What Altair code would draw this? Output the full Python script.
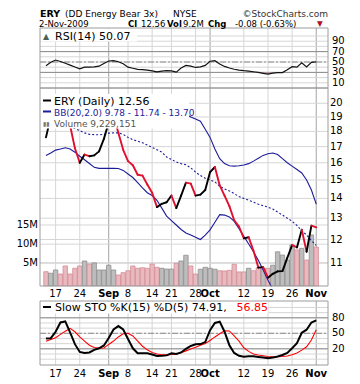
import altair as alt
import pandas as pd

# ---------------- data (trading-day index: 0 = Mon 17-Aug-2009, 54 = Mon 2-Nov-2009)
DAY = list(range(-2, 55))
CLOSE = [17.6, 19.0, 20.3, 19.9, 19.2, 18.4, 16.9, 16.0, 16.5, 16.4,
         16.45, 16.7, 17.5, 18.6, 19.1, 17.9, 16.8, 16.1, 15.85, 15.3,
         15.25, 14.75, 14.3, 13.55, 13.72, 13.8, 14.15, 13.5, 14.15, 14.85,
         14.8, 14.15, 14.2, 14.45, 15.45, 15.75, 14.7, 14.15, 13.6, 12.9,
         12.6, 12.05, 12.1, 11.5, 10.8, 10.82, 10.4, 10.55, 10.65, 10.66,
         11.2, 11.75, 11.65, 12.45, 11.46, 12.64, 12.56]
PREV_CLOSE = 18.2
BB_UP = [20.5, 20.55, 20.6, 20.6, 20.55, 20.5, 20.45, 20.4, 20.2, 20.0,
         19.9, 19.85, 19.85, 19.9, 20.0, 20.05, 20.0, 19.95, 19.9, 19.85,
         19.8, 19.75, 19.7, 19.6, 19.5, 19.4, 19.35, 19.3, 19.25, 19.2,
         19.0, 18.85, 18.7, 18.15, 17.6, 16.85, 16.25, 15.95, 15.82, 15.8,
         15.82, 15.87, 15.95, 16.1, 16.28, 16.45, 16.55, 16.6, 16.5, 16.25,
         16.0, 15.8, 15.6, 15.4, 15.0, 14.45, 13.70]
BB_MID = [18.6, 18.5, 18.45, 18.4, 18.35, 18.3, 18.2, 18.05, 17.9, 17.8,
          17.78, 17.77, 17.8, 17.88, 17.9, 17.9, 17.8, 17.6, 17.45, 17.35,
          17.25, 17.1, 16.95, 16.8, 16.65, 16.35, 16.2, 16.05, 15.95, 15.88,
          15.7, 15.45, 15.25, 15.1, 15.0, 14.9, 14.65, 14.5, 14.4, 14.25,
          14.1, 14.0, 13.9, 13.8, 13.7, 13.62, 13.55, 13.45, 13.3, 13.15,
          13.0, 12.85, 12.65, 12.4, 12.2, 11.95, 11.74]
BB_LOW = [16.45, 16.6, 16.78, 16.85, 16.93, 16.85, 16.65, 16.4, 16.18, 15.96,
          15.73, 15.67, 15.67, 15.67, 15.67, 15.66, 15.55, 15.34, 15.14, 14.85,
          14.56, 14.3, 14.15, 13.9, 13.5, 13.1, 12.88, 12.67, 12.46, 12.3,
          12.2, 12.1, 12.0, 12.2, 12.44, 12.8, 13.17, 13.15, 13.06, 12.84,
          12.5, 12.14, 11.8, 11.46, 11.1, 10.7, 10.3, 9.95, 9.85, 9.8,
          9.8, 9.75, 9.7, 9.65, 9.65, 9.7, 9.78]
VOLUME_M = [2.8, 2.4, 3.25, 2.2, 4.3, 2.2, 3.7, 4.3, 5.6, 4.8,
            5.1, 3.25, 3.25, 4.5, 3.25, 1.95, 2.55, 3.05, 4.3, 3.7,
            3.85, 3.7, 4.8, 3.95, 3.7, 3.5, 3.5, 5.0, 5.6, 7.1,
            4.3, 2.2, 3.45, 3.95, 3.7, 3.45, 3.05, 3.0, 3.15, 4.75,
            2.75, 2.75, 3.7, 3.05, 3.85, 3.7, 3.7, 4.5, 8.0, 7.15,
            5.85, 9.8, 8.5, 8.9, 5.85, 12.4, 9.229151]
RSI = [43, 49.5, 53.8, 51, 47.5, 44, 40.5, 37, 40, 40,
       40.5, 42, 47, 51.9, 52.8, 50.5, 46.5, 40, 38, 36,
       35.5, 34.5, 33, 31, 32.3, 33.4, 33, 30.5, 38.5, 43.5,
       42, 39.5, 40.5, 43.5, 51.5, 52.5, 46, 41.5, 38.5, 36,
       34.5, 33.3, 32.5, 31.3, 30, 28.3, 26.8, 28.5, 29.6, 29.6,
       35, 41, 40, 48.5, 40.5, 49.4, 50.07]
STO_K = [40, 40.5, 53, 71, 73, 52, 29, 14, 12, 13,
         18, 21, 26.5, 41, 57.5, 64, 57.5, 39, 21, 11.3,
         11.3, 11.3, 9, 6.2, 6.5, 7.3, 11.3, 10, 13, 20,
         25.5, 28.7, 29.2, 33, 56, 70, 72.5, 53, 27, 12,
         6.5, 4.7, 5.5, 5.5, 4.2, 3, 1.8, 3, 5, 8,
         12, 21, 31, 51, 57, 71, 74.91]
STO_D = [34.5, 38, 41.5, 48, 54, 59.5, 53, 43, 35, 27,
         22.5, 21, 21.5, 28.5, 35, 43, 49, 50, 45, 35,
         25, 18, 13, 10, 8.5, 8.3, 9, 10, 12.5, 16,
         19.5, 23, 27, 30.5, 36, 43, 49, 55, 54.5, 45,
         35, 22, 15, 10, 8, 6.5, 5.2, 4.8, 4.7, 5.2,
         6.1, 8.5, 12, 17.5, 24, 37, 56.85]

TICK_DAY = [0, 5, 11, 15, 20, 24, 29, 32, 39, 44, 49, 54]
TICK_LABEL = ["17", "24", "Sep", "8", "14", "21", "28", "Oct", "12", "19", "26", "Nov"]
MONTHS = ["Sep", "Oct", "Nov"]
PRICE_TICKS = [11, 12, 13, 14, 15, 16, 17, 18, 19, 20]
VOL_TICKS = [5, 10, 15]
VOL_LABELS = ["5M", "10M", "15M"]
RSI_LABELS = [10, 30, 50, 70, 90]
RSI_GRID = [10, 20, 30, 40, 50, 60, 70, 80, 90, 100]
STO_LABELS = [20, 50, 80]
STO_GRID = [0, 10, 20, 30, 40, 50, 60, 70, 80, 90, 100]

# ---------------- layout (pixels inside the plot group)
W, H = 288, 337
RSI_TOP, RSI_BOT = 0, 60
PX_TOP, PX_BOT = 60, 258
STO_TOP, STO_BOT = 273, 337
FONT = "DejaVu Sans"
NAVY = "#1c1c9a"
GRID = "#d6d6d6"
REF = "#8c8c8c"
BORDER = "#9c9c9c"

XS = alt.Scale(domain=[-2.2, 55.4], nice=False, zero=False)
RSI_S = alt.Scale(domain=[0, 115.4], range=[RSI_BOT, RSI_TOP], nice=False, zero=False)
PX_S = alt.Scale(type="log", domain=[10.08, 21.18], range=[PX_BOT, PX_TOP], nice=False)
VOL_MIN = -0.93
VOL_S = alt.Scale(domain=[VOL_MIN, 50.77], range=[PX_BOT, PX_TOP], nice=False, zero=False)
STO_S = alt.Scale(domain=[-11.3, 112.5], range=[STO_BOT, STO_TOP], nice=False, zero=False)

df = pd.DataFrame({"day": DAY, "close": CLOSE, "bb_up": BB_UP, "bb_mid": BB_MID,
                   "bb_low": BB_LOW, "vol": VOLUME_M, "rsi": RSI, "k": STO_K, "d": STO_D})
df["prev_day"] = df["day"] - 1
df["prev_close"] = [PREV_CLOSE] + CLOSE[:-1]
df["rsi_low"] = df["rsi"].clip(upper=30)
seg = df.iloc[1:].copy()

X = alt.X("day:Q", scale=XS, axis=None)
UP = "datum.close >= datum.prev_close"

layers = []

# vertical grid lines, one set per panel
vrows = []
for d, lab in zip(TICK_DAY, TICK_LABEL):
    for top, bot in [(RSI_TOP, RSI_BOT), (PX_TOP, PX_BOT), (STO_TOP, STO_BOT)]:
        vrows.append({"day": d, "month": lab in MONTHS, "top": top, "bot": bot})
layers.append(alt.Chart(pd.DataFrame(vrows)).mark_rule(strokeWidth=1).encode(
    x=X, y=alt.Y("top:Q", scale=None), y2="bot:Q",
    color=alt.condition("datum.month", alt.value("#a4a4a4"), alt.value(GRID))))


def hlines(vals, scale, color, dash=None, width=1):
    kw = {"color": color, "strokeWidth": width}
    if dash:
        kw["strokeDash"] = dash
    return alt.Chart(pd.DataFrame({"v": vals})).mark_rule(**kw).encode(
        x=alt.value(0), x2=alt.value(W), y=alt.Y("v:Q", scale=scale, axis=None))


layers.append(hlines(RSI_GRID, RSI_S, GRID))
layers.append(hlines(PRICE_TICKS, PX_S, GRID))
layers.append(hlines(VOL_TICKS, VOL_S, GRID))
layers.append(hlines(STO_GRID, STO_S, GRID))
layers.append(hlines([30, 70], RSI_S, REF))
layers.append(hlines([50], RSI_S, REF, dash=[6, 2, 2, 2]))
layers.append(hlines([20, 80], STO_S, REF))
layers.append(hlines([50], STO_S, REF, dash=[6, 2, 2, 2]))

# RSI
layers.append(alt.Chart(df).mark_area(color="#cf9ea3").encode(
    x=X, y=alt.Y("rsi_low:Q", scale=RSI_S, axis=None), y2=alt.datum(30)))
layers.append(alt.Chart(df).mark_line(color="#111111", strokeWidth=1.2).encode(
    x=X, y=alt.Y("rsi:Q", scale=RSI_S, axis=None)))

# volume
layers.append(alt.Chart(df).mark_bar(size=4.4, strokeWidth=0.8, clip=True).encode(
    x=X, y=alt.Y("vol:Q", scale=VOL_S, axis=None), y2=alt.datum(VOL_MIN),
    fill=alt.condition(UP, alt.value("#bdbdbd"), alt.value("#e8b9be")),
    stroke=alt.condition(UP, alt.value("#8e8e8e"), alt.value("#d68c96"))))

# Bollinger bands
for col, dash in [("bb_up", None), ("bb_low", None), ("bb_mid", [2, 2])]:
    kw = {"color": NAVY, "strokeWidth": 1.1}
    if dash:
        kw["strokeDash"] = dash
    layers.append(alt.Chart(df).mark_line(**kw).encode(
        x=X, y=alt.Y(f"{col}:Q", scale=PX_S, axis=None)))

# close line, black up / red down
layers.append(alt.Chart(seg).mark_rule(strokeWidth=1.9, strokeCap="round").encode(
    x=alt.X("prev_day:Q", scale=XS, axis=None), x2="day:Q",
    y=alt.Y("prev_close:Q", scale=PX_S, axis=None), y2="close:Q",
    color=alt.condition(UP, alt.value("#000000"), alt.value("#e0112f"))))

# white gap between price and STO panels
layers.append(alt.Chart(pd.DataFrame({"a": [0]})).mark_rect(color="white").encode(
    x=alt.value(-2), x2=alt.value(W + 2), y=alt.value(PX_BOT + 0.5), y2=alt.value(STO_TOP - 0.5)))

# STO
layers.append(alt.Chart(df).mark_line(color="#ff0000", strokeWidth=1.1).encode(
    x=X, y=alt.Y("d:Q", scale=STO_S, axis=None)))
layers.append(alt.Chart(df).mark_line(color="#000000", strokeWidth=2).encode(
    x=X, y=alt.Y("k:Q", scale=STO_S, axis=None)))

# legend boxes
boxes = pd.DataFrame({"x": [0.5, 0.5, 0.5], "x2": [97, 149, 228],
                      "y": [0.5, 66, 273.5], "y2": [13.5, 100.5, 285.5]})
layers.append(alt.Chart(boxes).mark_rect(color="white").encode(
    x=alt.X("x:Q", scale=None), x2="x2:Q", y=alt.Y("y:Q", scale=None), y2="y2:Q"))

# panel borders
panels = pd.DataFrame({"top": [RSI_TOP, PX_TOP, STO_TOP], "bot": [RSI_BOT, PX_BOT, STO_BOT]})
layers.append(alt.Chart(panels).mark_rect(fillOpacity=0, stroke=BORDER, strokeWidth=1).encode(
    x=alt.value(0), x2=alt.value(W), y=alt.Y("top:Q", scale=None), y2="bot:Q"))

# legend icons
icons = pd.DataFrame({"x": [3, 3, 3], "x2": [11, 11, 11], "y": [72.5, 83.5, 279],
                      "c": ["#000000", NAVY, "#000000"]})
layers.append(alt.Chart(icons).mark_rule(strokeWidth=2).encode(
    x=alt.X("x:Q", scale=None), x2="x2:Q", y=alt.Y("y:Q", scale=None),
    color=alt.Color("c:N", scale=None)))


def texts(rows, size, weight="normal", color="#000000", align="left", baseline="alphabetic"):
    return alt.Chart(pd.DataFrame(rows, columns=["x", "y", "t"])).mark_text(
        align=align, baseline=baseline, fontSize=size, fontWeight=weight, color=color, font=FONT
    ).encode(x=alt.X("x:Q", scale=None), y=alt.Y("y:Q", scale=None), text="t:N")


layers.append(texts([(3, 11, "▲")], 8, color="#4f5f4f"))
layers.append(texts([(3, 98, "▮▮")], 6, color="#777777"))
layers.append(texts([(15, 11.5, "RSI(14) 50.07")], 11))
layers.append(texts([(14, 76.5, "ERY (Daily) 12.56")], 11))
layers.append(texts([(14, 87.5, "BB(20,2.0) 9.78 - 11.74 - 13.70")], 9, color=NAVY))
layers.append(texts([(14, 98.5, "Volume 9,229,151")], 9, color="#555555"))
layers.append(texts([(15, 282.5, "Slow STO %K(15) %D(5) 74.91,")], 11))
layers.append(texts([(196.5, 282.5, "56.85")], 11, color="#ff0000"))

# title lines
L1, L2 = -11.2, -1
layers.append(texts([(0, L1, "ERY")], 9.5, weight="bold"))
layers.append(texts([(25, L1, "(DD Energy Bear 3x)"), (133, L1, "NYSE")], 9))
layers.append(texts([(-1, L2, "2-Nov-2009"), (101, L2, "12.56"), (143, L2, "9.2M"),
                     (195, L2, "-0.08 (-0.63%)")], 8.5))
layers.append(texts([(288, L1, "©StockCharts.com")], 9, align="right", color="#333333"))
layers.append(texts([(88, L2, "Cl"), (127, L2, "Vol"), (168, L2, "Chg")], 8.5, weight="bold"))
layers.append(texts([(277, L2 - 1, "▼")], 7.5, color="#b0102a"))

# x tick labels (below price panel and below STO panel)
xl = pd.DataFrame({"day": TICK_DAY, "lab": TICK_LABEL})
xl["month"] = xl["lab"].isin(MONTHS)
for ypos in [269, 349]:
    for is_month, weight in [(False, "normal"), (True, "bold")]:
        layers.append(alt.Chart(xl[xl["month"] == is_month]).mark_text(
            align="center", baseline="alphabetic", fontSize=10, fontWeight=weight, font=FONT
        ).encode(x=X, y=alt.value(ypos), text="lab:N"))

# y tick labels
layers.append(alt.Chart(pd.DataFrame({"v": PRICE_TICKS})).mark_text(
    align="left", baseline="middle", fontSize=10, font=FONT).encode(
    x=alt.value(W + 2), y=alt.Y("v:Q", scale=PX_S, axis=None), text="v:N"))
layers.append(alt.Chart(pd.DataFrame({"v": RSI_LABELS})).mark_text(
    align="left", baseline="middle", fontSize=10, font=FONT).encode(
    x=alt.value(W + 4), y=alt.Y("v:Q", scale=RSI_S, axis=None), text="v:N"))
layers.append(alt.Chart(pd.DataFrame({"v": STO_LABELS})).mark_text(
    align="left", baseline="middle", fontSize=10, font=FONT).encode(
    x=alt.value(W + 4), y=alt.Y("v:Q", scale=STO_S, axis=None), text="v:N"))
layers.append(alt.Chart(pd.DataFrame({"v": VOL_TICKS, "t": VOL_LABELS})).mark_text(
    align="right", baseline="middle", fontSize=10, font=FONT).encode(
    x=alt.value(-2), y=alt.Y("v:Q", scale=VOL_S, axis=None), text="t:N"))

chart = alt.layer(*layers).resolve_scale(y="independent").properties(
    width=W, height=H,
    autosize=alt.AutoSizeParams(type="none"),
    padding={"left": 32, "top": 20, "right": 24, "bottom": 16},
).configure_view(stroke=None).configure_text(font=FONT)

chart.save("out.html", embed_options={"renderer": "svg", "actions": False})
